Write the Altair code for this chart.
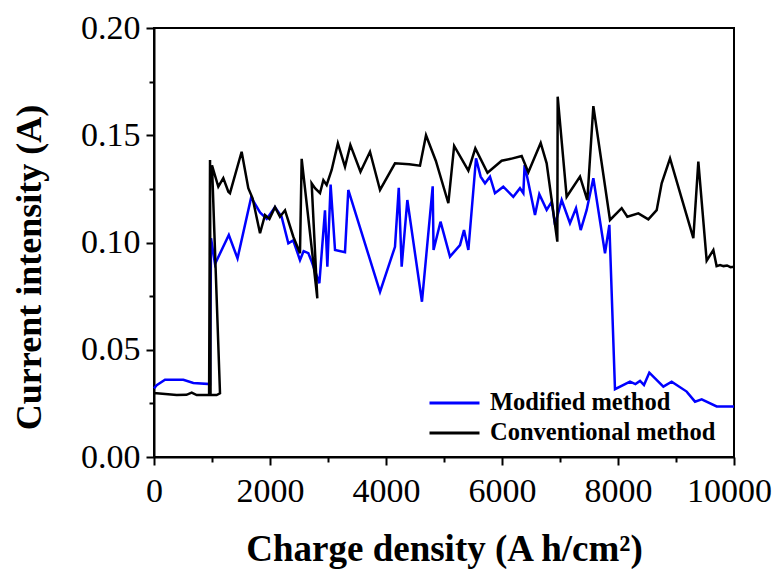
import altair as alt
import pandas as pd

# Modified method (blue) – points in drawing order
mod_x = [0, 46, 190, 506, 678, 966, 983, 1052, 1290, 1440, 1675, 1828, 1943, 2086, 2200, 2316,
         2400, 2517, 2580, 2661, 2720, 2851, 2948, 2989, 3045, 3121, 3293, 3350, 3897, 4155,
         4220, 4270, 4368, 4620, 4805, 4820, 4940, 5103, 5276, 5345, 5420, 5552, 5632, 5707,
         5793, 5879, 6022, 6195, 6310, 6368, 6390, 6454, 6569, 6643, 6770, 6857, 6914, 7029,
         7172, 7276, 7357, 7460, 7575, 7776, 7851, 7948, 8207, 8300, 8380, 8448, 8540, 8782,
         8925, 9184, 9328, 9443, 9701, 10000]
mod_y = [0.032, 0.0335, 0.036, 0.036, 0.0345, 0.034, 0.102, 0.090, 0.1035, 0.0926, 0.121, 0.114,
         0.111, 0.1165, 0.112, 0.0996, 0.101, 0.0918, 0.096, 0.095, 0.091, 0.081, 0.115, 0.0887,
         0.127, 0.0965, 0.0955, 0.1245, 0.077, 0.098, 0.1255, 0.0887, 0.1198, 0.0724, 0.1262,
         0.0965, 0.1097, 0.0934, 0.0988, 0.1058, 0.0965, 0.1392, 0.1307, 0.1276, 0.1307, 0.123,
         0.126, 0.1213, 0.1253, 0.123, 0.1361, 0.128, 0.1128, 0.1225, 0.1152, 0.119, 0.1082,
         0.1198, 0.109, 0.116, 0.1058, 0.1152, 0.130, 0.095, 0.1082, 0.0316, 0.0351, 0.034,
         0.0355, 0.0336, 0.0393, 0.0328, 0.0351, 0.0305, 0.0258, 0.0269, 0.0236, 0.0236]

# Conventional method (black) – points in drawing order
con_x = [0, 46, 391, 560, 650, 736, 950, 966, 975, 1080, 1138, 1000, 1109, 1195, 1282, 1310,
         1511, 1626, 1700, 1828, 1914, 1990, 2086, 2172, 2259, 2402, 2517, 2546, 2816, 2718,
         2776, 2862, 2920, 2977, 3063, 3170, 3293, 3385, 3560, 3724, 3897, 4155, 4400, 4586,
         4690, 4860, 5075, 5175, 5420, 5540, 5750, 5994, 6150, 6339, 6454, 6667, 6770, 6954,
         6960, 7115, 7345, 7471, 7575, 7862, 8063, 8161, 8351, 8523, 8667, 8753, 8897, 9098,
         9299, 9385, 9529, 9644, 9700, 9760, 9820, 9880, 9940, 10000]
con_y = [0.0297, 0.0297, 0.0289, 0.029, 0.030, 0.0289, 0.0289, 0.1385, 0.0289, 0.0289, 0.0297,
         0.136, 0.126, 0.130, 0.1237, 0.123, 0.1423, 0.1253, 0.1206, 0.1043, 0.1128, 0.111,
         0.1165, 0.112, 0.115, 0.1027, 0.095, 0.139, 0.074, 0.1276, 0.1253, 0.123, 0.129,
         0.1268, 0.1338, 0.1462, 0.1353, 0.1455, 0.133, 0.1423, 0.1245, 0.1369, 0.1365, 0.1358,
         0.150, 0.138, 0.1183, 0.1450, 0.1335, 0.1439, 0.1325, 0.1381, 0.139, 0.1403, 0.1328,
         0.1464, 0.1369, 0.1004, 0.168, 0.1213, 0.1307, 0.1198, 0.1636, 0.1105, 0.116, 0.112,
         0.1136, 0.1108, 0.1151, 0.1276, 0.1392, 0.1206, 0.102, 0.1377, 0.0915, 0.0965, 0.089,
         0.0895, 0.089, 0.0893, 0.0885, 0.0887]

series_names = ["Modified method", "Conventional method"]
series_colors = ["#0000ff", "#000000"]

x_ticks = list(range(0, 10001, 1000))
y_ticks = [0, 0.025, 0.05, 0.075, 0.1, 0.125, 0.15, 0.175, 0.2]

mod_df = pd.DataFrame({"x": mod_x, "y": mod_y, "s": series_names[0], "i": range(len(mod_x))})
con_df = pd.DataFrame({"x": con_x, "y": con_y, "s": series_names[1], "i": range(len(con_x))})

font = "Liberation Serif"
y_major = "round(datum.value*1000) % 50 == 0"

x_enc = alt.X("x:Q", scale=alt.Scale(domain=[0, 10000], nice=False),
              axis=alt.Axis(values=x_ticks,
                            labelExpr="datum.value % 2000 == 0 ? format(datum.value, 'd') : ''",
                            tickSize={"condition": {"test": "datum.value % 2000 == 0", "value": 8}, "value": 5},
                            labelOffset={"condition": {"test": "datum.value == 10000", "value": -5}, "value": 0},
                            labelFlush=False, labelOverlap=False,
                            title="Charge density (A h/cm²)", titleFontSize=37,
                            titlePadding=23, labelPadding=9))
y_enc = alt.Y("y:Q", scale=alt.Scale(domain=[0, 0.2], nice=False),
              axis=alt.Axis(values=y_ticks,
                            labelExpr=y_major + " ? format(datum.value, '.2f') : ''",
                            tickSize={"condition": {"test": y_major, "value": 8}, "value": 5},
                            labelFlush=False, labelOverlap=False,
                            title="Current intensity (A)", titleFontSize=36, titleY=239,
                            titlePadding=32, labelPadding=6))
color_enc = alt.Color("s:N", scale=alt.Scale(domain=series_names, range=series_colors),
                      legend=alt.Legend(title=None, orient="none", legendX=274, legendY=361,
                                        symbolType="stroke", symbolSize=2500, symbolStrokeWidth=3,
                                        clipHeight=28, rowPadding=2, labelOffset=9, padding=0,
                                        labelLimit=0,
                                        labelFont=font, labelFontSize=24.5, labelFontWeight="bold",
                                        labelColor="black"))

blue = alt.Chart(mod_df).mark_line(strokeWidth=2.5).encode(x=x_enc, y=y_enc, color=color_enc, order="i:Q")
black = alt.Chart(con_df).mark_line(strokeWidth=2.5).encode(x=x_enc, y=y_enc, color=color_enc, order="i:Q")

chart = alt.layer(blue, black).properties(
    width=580, height=429,
    autosize=alt.AutoSizeParams(type="none"),
    padding={"left": 146, "top": 20, "right": 38, "bottom": 112},
).configure_view(stroke="black", strokeWidth=2).configure_axis(
    grid=False, domainColor="black", domainWidth=2, tickColor="black", tickWidth=2,
    labelFont=font, labelFontSize=34, labelColor="black",
    titleFont=font, titleFontWeight="bold", titleColor="black",
).configure_legend(labelFont=font, labelFontWeight="bold", labelFontSize=24.5, labelLimit=0)

chart.save("out.html", embed_options={"renderer": "svg", "actions": False})
